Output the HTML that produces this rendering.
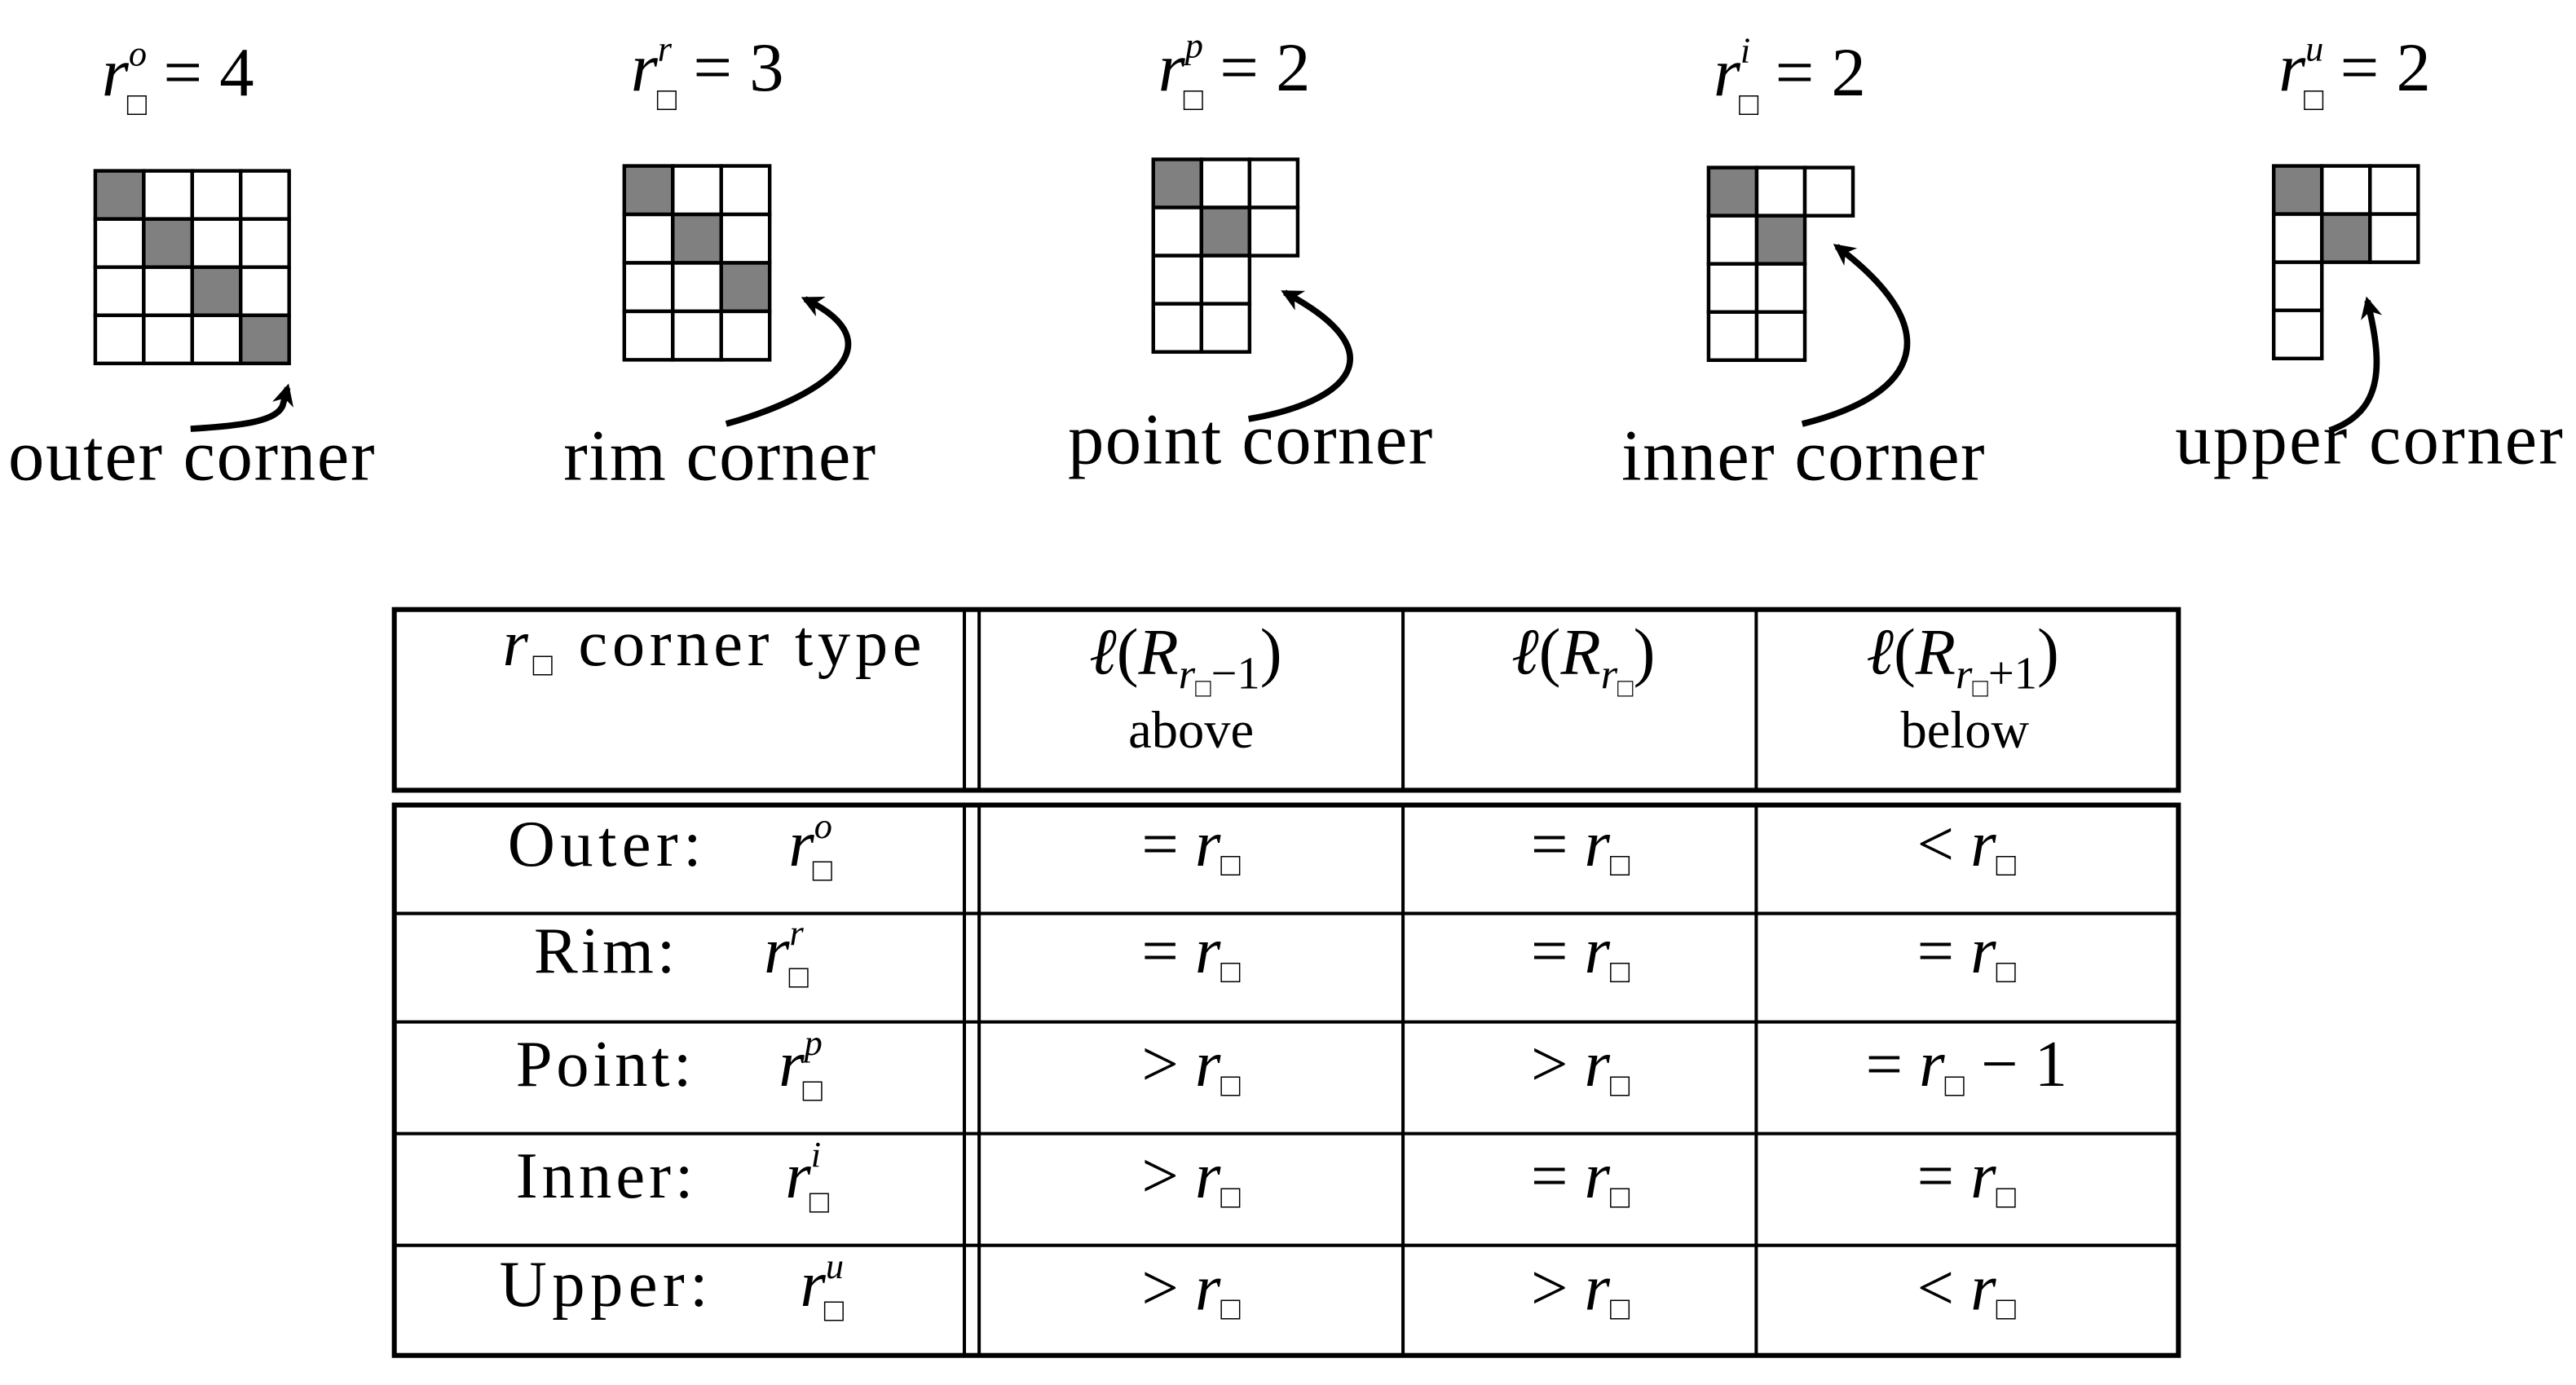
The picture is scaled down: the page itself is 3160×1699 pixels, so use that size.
<!DOCTYPE html>
<html><head><meta charset="utf-8"><style>html,body{margin:0;padding:0;background:#fff}svg{display:block}</style></head>
<body>
<svg xmlns="http://www.w3.org/2000/svg" width="3160" height="1699" viewBox="0 0 1568 843" preserveAspectRatio="none" font-family="Liberation Serif, DejaVu Serif, serif">
<defs>
<marker id="ah" viewBox="0 0 10 10" refX="8" refY="5" markerWidth="3.5" markerHeight="3.5" orient="auto" markerUnits="strokeWidth"><path d="M0,0 L10,5 L0,10 L3,5 z" fill="#000"/></marker>
</defs>
<g stroke="#000" stroke-width="2.2" fill="#fff">
<g>
<rect x="58" y="104" width="29.5" height="29.3" fill="#808080"/><rect x="87.5" y="104" width="29.5" height="29.3"/><rect x="117" y="104" width="29.5" height="29.3"/><rect x="146.5" y="104" width="29.5" height="29.3"/>
<rect x="58" y="133.3" width="29.5" height="29.3"/><rect x="87.5" y="133.3" width="29.5" height="29.3" fill="#808080"/><rect x="117" y="133.3" width="29.5" height="29.3"/><rect x="146.5" y="133.3" width="29.5" height="29.3"/>
<rect x="58" y="162.6" width="29.5" height="29.3"/><rect x="87.5" y="162.6" width="29.5" height="29.3"/><rect x="117" y="162.6" width="29.5" height="29.3" fill="#808080"/><rect x="146.5" y="162.6" width="29.5" height="29.3"/>
<rect x="58" y="191.9" width="29.5" height="29.3"/><rect x="87.5" y="191.9" width="29.5" height="29.3"/><rect x="117" y="191.9" width="29.5" height="29.3"/><rect x="146.5" y="191.9" width="29.5" height="29.3" fill="#808080"/>
</g>
<g>
<rect x="380" y="101" width="29.5" height="29.5" fill="#808080"/><rect x="409.5" y="101" width="29.5" height="29.5"/><rect x="439" y="101" width="29.5" height="29.5"/>
<rect x="380" y="130.5" width="29.5" height="29.5"/><rect x="409.5" y="130.5" width="29.5" height="29.5" fill="#808080"/><rect x="439" y="130.5" width="29.5" height="29.5"/>
<rect x="380" y="160" width="29.5" height="29.5"/><rect x="409.5" y="160" width="29.5" height="29.5"/><rect x="439" y="160" width="29.5" height="29.5" fill="#808080"/>
<rect x="380" y="189.5" width="29.5" height="29.5"/><rect x="409.5" y="189.5" width="29.5" height="29.5"/><rect x="439" y="189.5" width="29.5" height="29.5"/>
</g>
<g>
<rect x="702" y="97" width="29.3" height="29.3" fill="#808080"/><rect x="731.3" y="97" width="29.3" height="29.3"/><rect x="760.6" y="97" width="29.3" height="29.3"/>
<rect x="702" y="126.3" width="29.3" height="29.3"/><rect x="731.3" y="126.3" width="29.3" height="29.3" fill="#808080"/><rect x="760.6" y="126.3" width="29.3" height="29.3"/>
<rect x="702" y="155.6" width="29.3" height="29.3"/><rect x="731.3" y="155.6" width="29.3" height="29.3"/>
<rect x="702" y="184.9" width="29.3" height="29.3"/><rect x="731.3" y="184.9" width="29.3" height="29.3"/>
</g>
<g>
<rect x="1040" y="102" width="29.3" height="29.3" fill="#808080"/><rect x="1069.3" y="102" width="29.3" height="29.3"/><rect x="1098.6" y="102" width="29.3" height="29.3"/>
<rect x="1040" y="131.3" width="29.3" height="29.3"/><rect x="1069.3" y="131.3" width="29.3" height="29.3" fill="#808080"/>
<rect x="1040" y="160.6" width="29.3" height="29.3"/><rect x="1069.3" y="160.6" width="29.3" height="29.3"/>
<rect x="1040" y="189.9" width="29.3" height="29.3"/><rect x="1069.3" y="189.9" width="29.3" height="29.3"/>
</g>
<g>
<rect x="1384" y="101" width="29.3" height="29.3" fill="#808080"/><rect x="1413.3" y="101" width="29.3" height="29.3"/><rect x="1442.6" y="101" width="29.3" height="29.3"/>
<rect x="1384" y="130.3" width="29.3" height="29.3"/><rect x="1413.3" y="130.3" width="29.3" height="29.3" fill="#808080"/><rect x="1442.6" y="130.3" width="29.3" height="29.3"/>
<rect x="1384" y="159.6" width="29.3" height="29.3"/>
<rect x="1384" y="188.9" width="29.3" height="29.3"/>
</g>
</g>
<g fill="none" stroke="#000" stroke-width="3.8">
<path d="M116,261 C150,259 168,256 172,247 L175,236" marker-end="url(#ah)"/>
<path d="M442,258 C500,242 548,210 490,182" marker-end="url(#ah)"/>
<path d="M760,255 C820,245 852,215 782,178" marker-end="url(#ah)"/>
<path d="M1097,258 C1170,240 1185,200 1118,150" marker-end="url(#ah)"/>
<path d="M1418,262 C1452,250 1450,220 1441,183" marker-end="url(#ah)"/>
</g>
<g font-size="42" fill="#000">
<text x="62" y="58"><tspan font-style="italic">r</tspan><tspan font-size="22" font-style="italic" dy="-18">o</tspan><tspan font-size="20" dx="-12" dy="30">□</tspan><tspan dy="-12" dx="10">= 4</tspan></text>
<text x="384" y="55"><tspan font-style="italic">r</tspan><tspan font-size="22" font-style="italic" dy="-18">r</tspan><tspan font-size="20" dx="-9" dy="30">□</tspan><tspan dy="-12" dx="10">= 3</tspan></text>
<text x="705" y="55"><tspan font-style="italic">r</tspan><tspan font-size="22" font-style="italic" dy="-20">p</tspan><tspan font-size="20" dx="-12" dy="32">□</tspan><tspan dy="-12" dx="10">= 2</tspan></text>
<text x="1043" y="58"><tspan font-style="italic">r</tspan><tspan font-size="22" font-style="italic" dy="-20">i</tspan><tspan font-size="20" dx="-7" dy="32">□</tspan><tspan dy="-12" dx="10">= 2</tspan></text>
<text x="1387" y="55"><tspan font-style="italic">r</tspan><tspan font-size="22" font-style="italic" dy="-18">u</tspan><tspan font-size="20" dx="-12" dy="30">□</tspan><tspan dy="-12" dx="10">= 2</tspan></text>
</g>
<g font-size="44" fill="#000">
<text x="5" y="292" textLength="223">outer corner</text>
<text x="343" y="292" textLength="190">rim corner</text>
<text x="650" y="282" textLength="222">point corner</text>
<text x="987" y="292" textLength="221">inner corner</text>
<text x="1324" y="282" textLength="236">upper corner</text>
</g>
<g stroke="#000" fill="none">
<rect x="240" y="371" width="1086" height="110" stroke-width="3"/>
<rect x="240" y="490" width="1086" height="335" stroke-width="3"/>
<g stroke-width="2">
<line x1="587" y1="371" x2="587" y2="481"/><line x1="596" y1="371" x2="596" y2="481"/>
<line x1="587" y1="490" x2="587" y2="825"/><line x1="596" y1="490" x2="596" y2="825"/>
<line x1="854" y1="371" x2="854" y2="481"/><line x1="1069" y1="371" x2="1069" y2="481"/>
<line x1="854" y1="490" x2="854" y2="825"/><line x1="1069" y1="490" x2="1069" y2="825"/>
<line x1="240" y1="556" x2="1326" y2="556"/><line x1="240" y1="622" x2="1326" y2="622"/>
<line x1="240" y1="690" x2="1326" y2="690"/><line x1="240" y1="758" x2="1326" y2="758"/>
</g>
</g>
<g font-size="40" fill="#000">
<text x="306" y="405" textLength="255"><tspan font-style="italic">r</tspan><tspan font-size="20" dy="6">□</tspan><tspan dy="-6"> corner type</tspan></text>
<text x="663" y="410"><tspan font-style="italic">ℓ</tspan>(<tspan font-style="italic">R</tspan><tspan font-size="26" dy="9" font-style="italic">r</tspan><tspan font-size="16" dy="5">□</tspan><tspan font-size="28" dy="-5">−1</tspan><tspan dy="-9">)</tspan></text>
<text x="725" y="455" font-size="32" text-anchor="middle">above</text>
<text x="920" y="410"><tspan font-style="italic">ℓ</tspan>(<tspan font-style="italic">R</tspan><tspan font-size="26" dy="9" font-style="italic">r</tspan><tspan font-size="16" dy="5">□</tspan><tspan dy="-14">)</tspan></text>
<text x="1136" y="410"><tspan font-style="italic">ℓ</tspan>(<tspan font-style="italic">R</tspan><tspan font-size="26" dy="9" font-style="italic">r</tspan><tspan font-size="16" dy="5">□</tspan><tspan font-size="28" dy="-5">+1</tspan><tspan dy="-9">)</tspan></text>
<text x="1196" y="455" font-size="32" text-anchor="middle">below</text>

<text x="309" y="527" textLength="118">Outer:</text>
<text x="480" y="527"><tspan font-style="italic">r</tspan><tspan font-size="22" font-style="italic" dy="-17">o</tspan><tspan font-size="20" dx="-12" dy="26">□</tspan></text>
<text x="325" y="592" textLength="86">Rim:</text>
<text x="465" y="592"><tspan font-style="italic">r</tspan><tspan font-size="22" font-style="italic" dy="-17">r</tspan><tspan font-size="20" dx="-9" dy="26">□</tspan></text>
<text x="314" y="661" textLength="107">Point:</text>
<text x="474" y="661"><tspan font-style="italic">r</tspan><tspan font-size="22" font-style="italic" dy="-19">p</tspan><tspan font-size="20" dx="-12" dy="28">□</tspan></text>
<text x="314" y="729" textLength="108">Inner:</text>
<text x="478" y="729"><tspan font-style="italic">r</tspan><tspan font-size="22" font-style="italic" dy="-19">i</tspan><tspan font-size="20" dx="-7" dy="28">□</tspan></text>
<text x="304" y="795" textLength="127">Upper:</text>
<text x="487" y="795"><tspan font-style="italic">r</tspan><tspan font-size="22" font-style="italic" dy="-17">u</tspan><tspan font-size="20" dx="-12" dy="26">□</tspan></text>

<g text-anchor="middle">
<text x="725" y="527">= <tspan font-style="italic">r</tspan><tspan font-size="20" dy="6">□</tspan></text>
<text x="962" y="527">= <tspan font-style="italic">r</tspan><tspan font-size="20" dy="6">□</tspan></text>
<text x="1197" y="527">&lt; <tspan font-style="italic">r</tspan><tspan font-size="20" dy="6">□</tspan></text>
<text x="725" y="592">= <tspan font-style="italic">r</tspan><tspan font-size="20" dy="6">□</tspan></text>
<text x="962" y="592">= <tspan font-style="italic">r</tspan><tspan font-size="20" dy="6">□</tspan></text>
<text x="1197" y="592">= <tspan font-style="italic">r</tspan><tspan font-size="20" dy="6">□</tspan></text>
<text x="725" y="661">&gt; <tspan font-style="italic">r</tspan><tspan font-size="20" dy="6">□</tspan></text>
<text x="962" y="661">&gt; <tspan font-style="italic">r</tspan><tspan font-size="20" dy="6">□</tspan></text>
<text x="1197" y="661">= <tspan font-style="italic">r</tspan><tspan font-size="20" dy="6">□</tspan><tspan dy="-6"> − 1</tspan></text>
<text x="725" y="729">&gt; <tspan font-style="italic">r</tspan><tspan font-size="20" dy="6">□</tspan></text>
<text x="962" y="729">= <tspan font-style="italic">r</tspan><tspan font-size="20" dy="6">□</tspan></text>
<text x="1197" y="729">= <tspan font-style="italic">r</tspan><tspan font-size="20" dy="6">□</tspan></text>
<text x="725" y="797">&gt; <tspan font-style="italic">r</tspan><tspan font-size="20" dy="6">□</tspan></text>
<text x="962" y="797">&gt; <tspan font-style="italic">r</tspan><tspan font-size="20" dy="6">□</tspan></text>
<text x="1197" y="797">&lt; <tspan font-style="italic">r</tspan><tspan font-size="20" dy="6">□</tspan></text>
</g>
</g>
</svg>
</body></html>
